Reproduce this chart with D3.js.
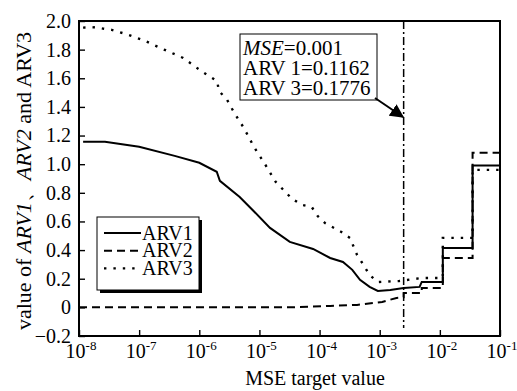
<!DOCTYPE html>
<html>
<head>
<meta charset="utf-8">
<script src="https://cdn.jsdelivr.net/npm/d3@7"></script>
<style>
    body { margin: 0; background: #fff; }
</style>
</head>
<body>
<div id="chart"></div>
<script>
// MSE target value vs ARV values
const arv1 = [
    [1.17e-8, 1.157], [2.7e-8, 1.157], [1.0e-7, 1.122], [3.9e-7, 1.058], [1.0e-6, 1.010],
    [1.95e-6, 0.947], [2.2e-6, 0.884], [4.7e-6, 0.771], [8.3e-6, 0.666], [1.5e-5, 0.555],
    [3.2e-5, 0.457], [7.8e-5, 0.408], [1.5e-4, 0.345], [2.45e-4, 0.317], [3.5e-4, 0.262],
    [4.7e-4, 0.192], [6.8e-4, 0.143], [9.3e-4, 0.115], [1.5e-3, 0.122], [2.5e-3, 0.136],
    [4.6e-3, 0.143], [5.0e-3, 0.178], [1.12e-2, 0.178], [1.12e-2, 0.415], [3.5e-2, 0.415],
    [3.5e-2, 0.99], [1.0e-1, 0.99]
];
const arv2 = [
    [1.0e-8, 0], [3.2e-5, 0], [1.5e-4, 0.01], [4.2e-4, 0.017], [1.1e-3, 0.038],
    [1.9e-3, 0.066], [2.5e-3, 0.07], [2.5e-3, 0.10], [5.0e-3, 0.10], [5.0e-3, 0.136],
    [1.12e-2, 0.136], [1.12e-2, 0.345], [3.5e-2, 0.345], [3.5e-2, 1.08], [1.0e-1, 1.08]
];
const arv3 = [
    [1.17e-8, 1.954], [1.9e-8, 1.956], [2.5e-8, 1.947], [3.5e-8, 1.938], [6.5e-8, 1.905],
    [1.3e-7, 1.858], [2.6e-7, 1.80], [5.4e-7, 1.742], [1.1e-6, 1.648], [2.0e-6, 1.578],
    [2.1e-6, 1.513], [2.9e-6, 1.450], [3.5e-6, 1.387], [4.4e-6, 1.317], [5.5e-6, 1.254],
    [8.1e-6, 1.121], [1.23e-5, 1.002], [1.86e-5, 0.877], [2.6e-5, 0.813], [3.5e-5, 0.757],
    [5.2e-5, 0.715], [7.4e-5, 0.701], [9.3e-5, 0.638], [1.23e-4, 0.589], [2.3e-4, 0.527],
    [3.2e-4, 0.485], [4.2e-4, 0.366], [5.0e-4, 0.317], [6.8e-4, 0.226], [9.3e-4, 0.177],
    [2.1e-3, 0.184], [2.8e-3, 0.191], [5.0e-3, 0.205], [1.12e-2, 0.205], [1.12e-2, 0.485],
    [3.5e-2, 0.485], [3.5e-2, 0.96], [1.0e-1, 0.96]
];
const xTicks = [1e-8, 1e-7, 1e-6, 1e-5, 1e-4, 1e-3, 1e-2, 1e-1];
const yTicks = [-0.2, 0, 0.2, 0.4, 0.6, 0.8, 1.0, 1.2, 1.4, 1.6, 1.8, 2.0];
const markerX = 2.5e-3;
const noteLines = [["MSE", "=0.001"], ["", "ARV 1=0.1162"], ["", "ARV 3=0.1776"]];
const legendNames = ["ARV1", "ARV2", "ARV3"];

const width = 517, height = 391;
const m = {left: 79, right: 500, top: 21, bottom: 336};
const serif = "'Liberation Serif', 'Times New Roman', serif";

const svg = d3.select("#chart").append("svg")
    .attr("width", width)
    .attr("height", height)
    .style("font-family", serif);

const x = d3.scaleLog().domain([1e-8, 1e-1]).range([m.left, m.right]);
const y = d3.scaleLinear().domain([-0.2, 2.0]).range([m.bottom, m.top]);

const styles = [
    {data: arv1, dash: null, width: 2},
    {data: arv2, dash: "8,5", width: 2},
    {data: arv3, dash: "2.4,7", width: 2.4}
];

const line = d3.line()
    .x(d => x(d[0]))
    .y(d => y(d[1]));

// axes, ticks pointing inward
const xAxis = svg.append("g")
    .attr("transform", "translate(0," + m.bottom + ")")
    .call(d3.axisBottom(x).tickValues(xTicks).tickSize(-6).tickFormat(""));
xAxis.select(".domain").remove();
xAxis.selectAll("line").attr("stroke", "#000").attr("stroke-width", 1.4);

const yAxis = svg.append("g")
    .attr("transform", "translate(" + m.left + ",0)")
    .call(d3.axisLeft(y).tickValues(yTicks).tickSize(-6).tickPadding(8)
        .tickFormat(d => d === 0 ? "0" : d3.format(".1f")(d)));
yAxis.attr("font-family", null).attr("font-size", null);
yAxis.select(".domain").remove();
yAxis.selectAll("line").attr("stroke", "#000").attr("stroke-width", 1.4);
yAxis.selectAll("text")
    .style("font-family", serif)
    .style("font-size", "20px");

// x tick labels with exponents
const xLabels = svg.append("g").selectAll("text")
    .data(xTicks)
    .enter()
    .append("text")
    .attr("x", d => x(d) + 2)
    .attr("y", 358)
    .attr("text-anchor", "middle")
    .style("font-family", serif)
    .style("font-size", "20px");
xLabels.append("tspan").text("10");
xLabels.append("tspan")
    .attr("dy", -8)
    .style("font-size", "13px")
    .text(d => Math.round(Math.log10(d)));

// frame
svg.append("rect")
    .attr("x", m.left).attr("y", m.top)
    .attr("width", m.right - m.left).attr("height", m.bottom - m.top)
    .attr("fill", "none").attr("stroke", "#000").attr("stroke-width", 2);

// marker line at MSE target
svg.append("line")
    .attr("x1", x(markerX)).attr("x2", x(markerX))
    .attr("y1", m.top).attr("y2", m.bottom - 8)
    .attr("stroke", "#000").attr("stroke-width", 1.5)
    .attr("stroke-dasharray", "8,3,2,3");

svg.selectAll("path.series")
    .data(styles)
    .enter()
    .append("path")
    .attr("class", "series")
    .attr("d", d => line(d.data))
    .attr("fill", "none")
    .attr("stroke", "#000")
    .attr("stroke-width", d => d.width)
    .attr("stroke-dasharray", d => d.dash);

// annotation box and arrow
svg.append("defs").append("marker")
    .attr("id", "arrow")
    .attr("viewBox", "0 0 10 10")
    .attr("refX", 9).attr("refY", 5)
    .attr("markerWidth", 7).attr("markerHeight", 7)
    .attr("orient", "auto")
    .append("path")
    .attr("d", "M0,0 L10,5 L0,10 z")
    .attr("fill", "#000");

svg.append("rect")
    .attr("x", 240).attr("y", 34)
    .attr("width", 137).attr("height", 66)
    .attr("fill", "#fff").attr("stroke", "#000").attr("stroke-width", 1);

const note = svg.append("g").selectAll("text")
    .data(noteLines)
    .enter()
    .append("text")
    .attr("x", 243)
    .attr("y", (d, i) => 55 + i * 20.2)
    .style("font-family", serif)
    .style("font-size", "21px");
note.append("tspan")
    .style("font-style", "italic")
    .text(d => d[0]);
note.append("tspan").text(d => d[1]);

svg.append("line")
    .attr("x1", 375).attr("y1", 98)
    .attr("x2", 403).attr("y2", 117)
    .attr("stroke", "#000").attr("stroke-width", 2)
    .attr("marker-end", "url(#arrow)");

// legend with shadow
const legend = svg.append("g");
legend.append("rect")
    .attr("x", 100).attr("y", 220)
    .attr("width", 102).attr("height", 73)
    .attr("fill", "#000");
legend.append("rect")
    .attr("x", 97).attr("y", 217)
    .attr("width", 102).attr("height", 73)
    .attr("fill", "#fff").attr("stroke", "#000").attr("stroke-width", 1);

const items = legend.selectAll("g.item")
    .data(styles)
    .enter()
    .append("g")
    .attr("transform", (d, i) => "translate(0," + (233 + i * 17.7) + ")");
items.append("line")
    .attr("x1", 104).attr("x2", 141)
    .attr("stroke", "#000")
    .attr("stroke-width", d => d.width)
    .attr("stroke-dasharray", d => d.dash);
items.append("text")
    .attr("x", 142).attr("y", 6.5)
    .style("font-family", serif)
    .style("font-size", "20px")
    .text((d, i) => legendNames[i]);

// axis titles
svg.append("text")
    .attr("x", 315).attr("y", 385)
    .attr("text-anchor", "middle")
    .style("font-family", serif)
    .style("font-size", "20px")
    .text("MSE target value");

const yTitle = svg.append("text")
    .attr("transform", "translate(31,181) rotate(-90)")
    .attr("text-anchor", "middle")
    .style("font-family", serif)
    .style("font-size", "22px");
yTitle.append("tspan").text("value of ");
yTitle.append("tspan").style("font-style", "italic").text("ARV1");
yTitle.append("tspan").text("、");
yTitle.append("tspan").style("font-style", "italic").text("ARV2");
yTitle.append("tspan").text(" and ARV3");
</script>
</body>
</html>
